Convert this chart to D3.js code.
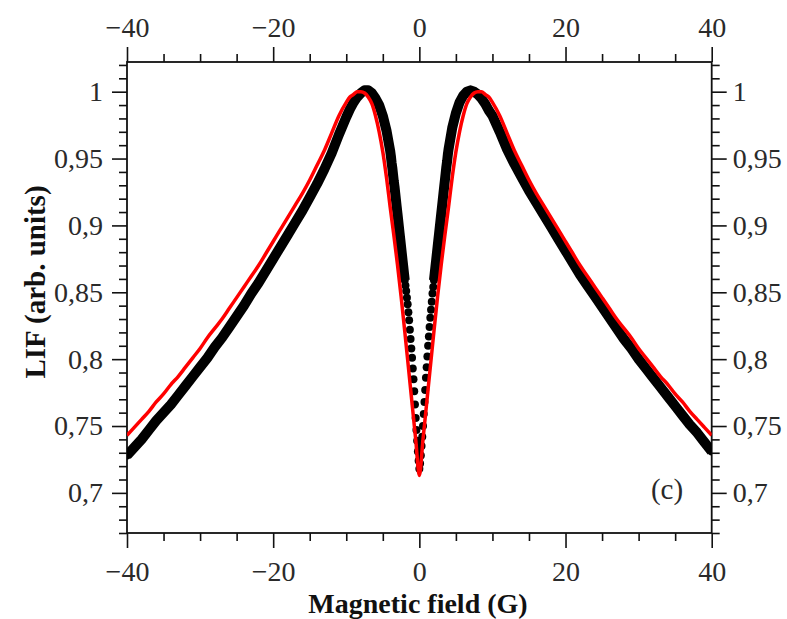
<!DOCTYPE html>
<html>
<head>
<meta charset="utf-8">
<script src="https://cdn.jsdelivr.net/npm/d3@7"></script>
<style>
  html, body { margin: 0; padding: 0; background: #fff; }
  svg { display: block; }
</style>
</head>
<body>
<script>
// measured LIF signal (dots)
var fieldG = [
  -40, -39, -38, -37, -36, -35, -34, -33, -32, -31, -30, -29, -28, -27, -26, -25,
  -24, -23, -22, -21, -20, -19, -18, -17, -16, -15, -14, -13, -12, -11, -10,
  -9.5, -9, -8.5, -8, -7.5, -7, -6.5, -6, -5.5, -5, -4.5,
  -4.0, -3.9, -3.8, -3.7, -3.6, -3.5, -3.4, -3.3, -3.2, -3.1, -3.0, -2.9, -2.8, -2.7,
  -2.6, -2.5, -2.4, -2.3, -2.2, -2.1, -2.0, -1.9, -1.8, -1.7, -1.6, -1.5, -1.4, -1.3,
  -1.2, -1.1, -1.0, -0.9, -0.8, -0.7, -0.6, -0.5, -0.4, -0.3, -0.2, -0.1, 0,
  0.1, 0.2, 0.3, 0.4, 0.5, 0.6, 0.7, 0.8, 0.9, 1.0, 1.1, 1.2, 1.3, 1.4, 1.5, 1.6,
  1.7, 1.8, 1.9, 2.0, 2.1, 2.2, 2.3, 2.4, 2.5, 2.6, 2.7, 2.8, 2.9, 3.0, 3.1, 3.2,
  3.3, 3.4, 3.5, 3.6, 3.7, 3.8, 3.9, 4.0,
  4.5, 5, 5.5, 6, 6.5, 7, 7.5, 8, 8.5, 9, 9.5,
  10, 11, 12, 13, 14, 15, 16, 17, 18, 19, 20, 21, 22, 23, 24, 25,
  26, 27, 28, 29, 30, 31, 32, 33, 34, 35, 36, 37, 38, 39, 40
];
var lifData = [
  0.728, 0.734, 0.740, 0.747, 0.754, 0.760, 0.766, 0.773, 0.780, 0.787, 0.794, 0.801, 0.809, 0.816, 0.824, 0.832,
  0.840, 0.849, 0.857, 0.866, 0.875, 0.884, 0.893, 0.902, 0.911, 0.921, 0.931, 0.942, 0.954, 0.968, 0.981,
  0.987, 0.992, 0.996, 0.999, 1.001, 1.001, 0.999, 0.995, 0.990, 0.982, 0.971,
  0.956, 0.952, 0.947, 0.943, 0.938, 0.933, 0.929, 0.924, 0.919, 0.914, 0.909, 0.904, 0.899, 0.894,
  0.889, 0.884, 0.879, 0.874, 0.869, 0.864, 0.859, 0.855, 0.851, 0.846, 0.841, 0.835, 0.829, 0.822,
  0.815, 0.808, 0.801, 0.793, 0.785, 0.776, 0.766, 0.756, 0.747, 0.739, 0.731, 0.724, 0.718,
  0.722, 0.728, 0.735, 0.742, 0.750, 0.759, 0.768, 0.777, 0.786, 0.794, 0.802, 0.810, 0.817, 0.824, 0.831, 0.837,
  0.843, 0.849, 0.854, 0.859, 0.864, 0.869, 0.874, 0.879, 0.884, 0.889, 0.894, 0.899, 0.904, 0.909, 0.914, 0.919,
  0.924, 0.929, 0.934, 0.939, 0.944, 0.948, 0.953, 0.957,
  0.973, 0.984, 0.992, 0.997, 1.000, 1.001, 1.000, 0.998, 0.995, 0.991, 0.986,
  0.982, 0.970, 0.957, 0.946, 0.936, 0.926, 0.917, 0.908, 0.899, 0.890, 0.881, 0.872, 0.863, 0.855, 0.847, 0.839,
  0.831, 0.823, 0.815, 0.808, 0.800, 0.793, 0.786, 0.779, 0.772, 0.765, 0.758, 0.751, 0.745, 0.738, 0.731
];

// theoretical fit (red line)
var fitField = [
  -40, -39, -38, -37, -36, -35, -34, -33, -32, -31, -30, -29, -28, -27, -26, -25,
  -24, -23, -22, -21, -20, -19, -18, -17, -16, -15, -14, -13, -12, -11, -10,
  -9.5, -9, -8.5, -8, -7.5, -7, -6.5, -6, -5.5, -5, -4.5, -4, -3.5, -3, -2.5, -2,
  -1.5, -1, -0.5, 0, 0.5, 1, 1.5, 2, 2.5, 3, 3.5, 4, 4.5, 5, 5.5, 6, 6.5, 7, 7.5,
  8, 8.5, 9, 9.5,
  10, 11, 12, 13, 14, 15, 16, 17, 18, 19, 20, 21, 22, 23, 24, 25,
  26, 27, 28, 29, 30, 31, 32, 33, 34, 35, 36, 37, 38, 39, 40
];
var lifFit = [
  0.743, 0.749, 0.755, 0.761, 0.768, 0.774, 0.781, 0.787, 0.794, 0.801, 0.808, 0.816, 0.823, 0.830, 0.838, 0.846,
  0.854, 0.862, 0.870, 0.879, 0.888, 0.897, 0.906, 0.915, 0.924, 0.934, 0.945, 0.956, 0.969, 0.982, 0.992,
  0.996, 0.998, 1.000, 1.000, 0.999, 0.996, 0.991, 0.982, 0.970, 0.955, 0.936, 0.914, 0.893, 0.871, 0.847, 0.821,
  0.794, 0.767, 0.740, 0.713, 0.740, 0.767, 0.794, 0.821, 0.847, 0.871, 0.893, 0.914, 0.936, 0.955, 0.970, 0.982, 0.991, 0.996, 0.999,
  1.000, 1.000, 0.998, 0.996,
  0.992, 0.982, 0.969, 0.956, 0.945, 0.934, 0.924, 0.915, 0.906, 0.897, 0.888, 0.879, 0.870, 0.862, 0.854, 0.846,
  0.838, 0.830, 0.823, 0.816, 0.808, 0.801, 0.794, 0.787, 0.781, 0.774, 0.768, 0.761, 0.755, 0.749, 0.743
];

var xMajor = [-40, -20, 0, 20, 40];
var xMinor = [-35, -30, -25, -15, -10, -5, 5, 10, 15, 25, 30, 35];
var yMajor = [0.7, 0.75, 0.8, 0.85, 0.9, 0.95, 1];
var yMinor = [0.67, 0.68, 0.69, 0.71, 0.72, 0.73, 0.74, 0.76, 0.77, 0.78, 0.79, 0.81, 0.82,
  0.83, 0.84, 0.86, 0.87, 0.88, 0.89, 0.91, 0.92, 0.93, 0.94, 0.96, 0.97, 0.98, 0.99, 1.01, 1.02];

var width = 787,
    height = 619;

var plotLeft = 127, plotRight = 711.7, plotTop = 62, plotBottom = 533;

var x = d3.scaleLinear().domain([-40, 40]).range([plotLeft, plotRight]);
var y = d3.scaleLinear().domain([0.67, 1.0222]).range([plotBottom, plotTop]);

var svg = d3.select("body").append("svg")
    .attr("width", width)
    .attr("height", height);

svg.append("rect")
    .attr("width", width)
    .attr("height", height)
    .attr("fill", "#fff");

var serif = "'Liberation Serif', 'Times New Roman', serif";

function fmtX(d) { return d < 0 ? "\u2212" + Math.abs(d) : String(d); }
function fmtY(d) { return String(+d.toFixed(2)).replace(".", ","); }

function styleAxis(g) {
  g.select(".domain").remove();
  g.selectAll(".tick line").attr("stroke", "#111").attr("stroke-width", 1.6);
  g.selectAll(".tick text")
      .attr("fill", "#2a2a2a")
      .style("font-family", serif)
      .style("font-size", "28px");
}

// minor ticks
svg.append("g").attr("transform", "translate(0," + plotBottom + ")")
    .call(d3.axisBottom(x).tickValues(xMinor).tickSize(8).tickFormat(""))
    .call(styleAxis);
svg.append("g").attr("transform", "translate(0," + plotTop + ")")
    .call(d3.axisTop(x).tickValues(xMinor).tickSize(8).tickFormat(""))
    .call(styleAxis);
svg.append("g").attr("transform", "translate(" + plotLeft + ",0)")
    .call(d3.axisLeft(y).tickValues(yMinor).tickSize(8).tickFormat(""))
    .call(styleAxis);
svg.append("g").attr("transform", "translate(" + plotRight + ",0)")
    .call(d3.axisRight(y).tickValues(yMinor).tickSize(8).tickFormat(""))
    .call(styleAxis);

// major ticks with labels
svg.append("g").attr("transform", "translate(0," + plotBottom + ")")
    .call(d3.axisBottom(x).tickValues(xMajor).tickSize(15).tickPadding(13).tickFormat(fmtX))
    .call(styleAxis);
svg.append("g").attr("transform", "translate(0," + plotTop + ")")
    .call(d3.axisTop(x).tickValues(xMajor).tickSize(15).tickPadding(10).tickFormat(fmtX))
    .call(styleAxis);
svg.append("g").attr("transform", "translate(" + plotLeft + ",0)")
    .call(d3.axisLeft(y).tickValues(yMajor).tickSize(15).tickPadding(9).tickFormat(fmtY))
    .call(styleAxis);
svg.append("g").attr("transform", "translate(" + plotRight + ",0)")
    .call(d3.axisRight(y).tickValues(yMajor).tickSize(15).tickPadding(6).tickFormat(fmtY))
    .call(styleAxis);

// frame
svg.append("rect")
    .attr("x", plotLeft)
    .attr("y", plotTop)
    .attr("width", plotRight - plotLeft)
    .attr("height", plotBottom - plotTop)
    .attr("fill", "none")
    .attr("stroke", "#111")
    .attr("stroke-width", 1.8);

svg.append("clipPath").attr("id", "plot")
  .append("rect")
    .attr("x", plotLeft)
    .attr("y", plotTop)
    .attr("width", plotRight - plotLeft)
    .attr("height", plotBottom - plotTop);

var data = fieldG.map(function(f, i) { return [f, lifData[i]]; });
var fit = fitField.map(function(f, i) { return [f, lifFit[i]]; });

var plot = svg.append("g").attr("clip-path", "url(#plot)");

// dense data points merge into a band away from the dip
plot.append("path")
    .datum(data)
    .attr("fill", "none")
    .attr("stroke", "#000")
    .attr("stroke-width", 10)
    .attr("stroke-linejoin", "round")
    .attr("d", d3.line()
        .defined(function(d) { return Math.abs(d[0]) >= 2; })
        .x(function(d) { return x(d[0]); })
        .y(function(d) { return y(d[1]); }));

plot.append("g").selectAll("circle")
    .data(data)
  .enter().append("circle")
    .attr("cx", function(d) { return x(d[0]); })
    .attr("cy", function(d) { return y(d[1]); })
    .attr("r", 4)
    .attr("fill", "#000");

plot.append("path")
    .datum(fit)
    .attr("fill", "none")
    .attr("stroke", "#f00")
    .attr("stroke-width", 3.5)
    .attr("stroke-linejoin", "round")
    .attr("d", d3.line()
        .curve(d3.curveMonotoneX)
        .x(function(d) { return x(d[0]); })
        .y(function(d) { return y(d[1]); }));

// panel label
svg.append("text")
    .attr("x", 667)
    .attr("y", 499)
    .attr("text-anchor", "middle")
    .style("font-family", serif)
    .style("font-size", "29px")
    .attr("fill", "#2a2a2a")
    .text("(c)");

// axis titles
svg.append("text")
    .attr("transform", "translate(45,282) rotate(-90)")
    .attr("text-anchor", "middle")
    .style("font-family", serif)
    .style("font-size", "29px")
    .style("font-weight", "bold")
    .attr("fill", "#111")
    .text("LIF (arb. units)");

svg.append("text")
    .attr("x", 418)
    .attr("y", 613)
    .attr("text-anchor", "middle")
    .style("font-family", serif)
    .style("font-size", "28px")
    .style("font-weight", "bold")
    .attr("fill", "#111")
    .text("Magnetic field (G)");
</script>
</body>
</html>
